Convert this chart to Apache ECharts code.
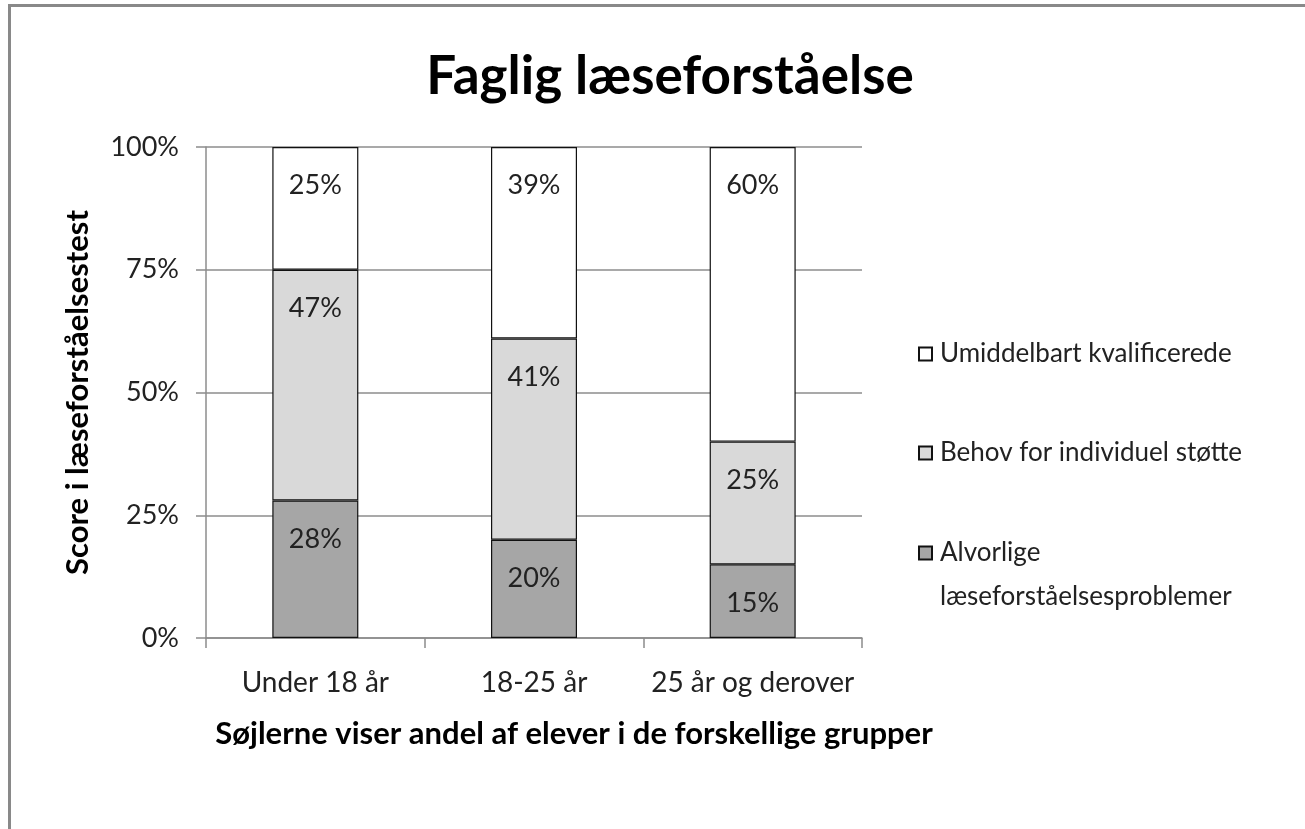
<!DOCTYPE html>
<html>
<head>
<meta charset="utf-8">
<script src="https://cdn.jsdelivr.net/npm/echarts@6/dist/echarts.min.js"></script>
<style>
  html, body { margin: 0; padding: 0; background: #fff; }
  #frame {
    position: absolute; left: 8px; top: 4px; width: 1305px; height: 829px;
    border-left: 3px solid #898989; border-top: 3px solid #898989;
  }
  #main { position: absolute; left: 0; top: 0; width: 1305px; height: 829px; }
</style>
</head>
<body>
<div id="frame"></div>
<div id="main"></div>
<script>
// categories and values (percent)
var categories = ['Under 18 år', '18-25 år', '25 år og derover']
var alvorlige = [28, 20, 15]
var behov = [47, 41, 25]
var umiddelbart = [25, 39, 60]
var yTicks = [0, 25, 50, 75, 100]

var FONT = 'Lato'
var myChart = echarts.init(document.getElementById('main'))

var labelStyle = {
  show: true,
  position: 'insideTop',
  distance: 25,
  fontFamily: FONT,
  fontSize: 27,
  color: '#222',
  formatter: '{c}%',
}

// one legend per entry so each can be placed like the original
var legendBase = {
  orient: 'vertical',
  left: 913,
  itemWidth: 13,
  itemHeight: 13,
  icon: 'rect',
  textStyle: { fontFamily: FONT, fontSize: 26, color: '#222', lineHeight: 40, padding: [0, 0, 0, 3] },
}

var option = {
  animation: false,
  title: {
    text: 'Faglig læseforståelse',
    left: 665,
    textAlign: 'center',
    top: 45,
    textStyle: { fontFamily: FONT, fontSize: 53, fontWeight: 'bold', color: '#000' },
  },
  legend: [
    Object.assign({}, legendBase, { top: 329, data: ['Umiddelbart kvalificerede'] }),
    Object.assign({}, legendBase, { top: 428, data: ['Behov for individuel støtte'] }),
    Object.assign({}, legendBase, {
      top: 482,
      data: ['Alvorlige læseforståelsesproblemer'],
      textStyle: Object.assign({}, legendBase.textStyle, { lineHeight: 44 }),
      formatter: function () {
        return ' \nAlvorlige\nlæseforståelsesproblemer'
      },
    }),
  ],
  grid: { left: 206, right: 443, top: 147, bottom: 191 },
  xAxis: {
    type: 'category',
    data: categories,
    name: 'Søjlerne viser andel af elever i de forskellige grupper',
    nameLocation: 'middle',
    nameGap: 80,
    nameTextStyle: { fontFamily: FONT, fontSize: 31, fontWeight: 'bold', color: '#000', padding: [0, 0, 0, 80] },
    axisLine: { lineStyle: { color: '#8c8c8c', width: 1.5 } },
    axisTick: { show: true, alignWithLabel: false, length: 10, lineStyle: { color: '#8c8c8c', width: 1.5 } },
    axisLabel: { interval: 0, fontFamily: FONT, fontSize: 28, color: '#222', margin: 31 },
  },
  yAxis: {
    type: 'value',
    min: 0,
    max: 100,
    interval: 25,
    name: 'Score i læseforståelsestest',
    nameLocation: 'middle',
    nameGap: 113,
    nameTextStyle: { fontFamily: FONT, fontSize: 31, fontWeight: 'bold', color: '#000' },
    axisLine: { show: true, lineStyle: { color: '#8c8c8c', width: 1.5 } },
    axisTick: { show: true, length: 10, lineStyle: { color: '#8c8c8c', width: 1.5 } },
    splitLine: { lineStyle: { color: '#8c8c8c', width: 1.5 } },
    axisLabel: {
      fontFamily: FONT,
      fontSize: 27,
      color: '#222',
      margin: 27,
      formatter: function (v) {
        return yTicks.indexOf(v) >= 0 ? v + '%' : ''
      },
    },
  },
  series: [
    {
      name: 'Alvorlige læseforståelsesproblemer',
      type: 'bar',
      stack: 'total',
      barWidth: 86,
      data: alvorlige,
      itemStyle: { color: '#a6a6a6', borderColor: '#111', borderWidth: 1.2 },
      label: labelStyle,
    },
    {
      name: 'Behov for individuel støtte',
      type: 'bar',
      stack: 'total',
      barWidth: 86,
      data: behov,
      itemStyle: { color: '#d9d9d9', borderColor: '#111', borderWidth: 1.2 },
      label: labelStyle,
    },
    {
      name: 'Umiddelbart kvalificerede',
      type: 'bar',
      stack: 'total',
      barWidth: 86,
      data: umiddelbart,
      itemStyle: { color: '#ffffff', borderColor: '#111', borderWidth: 1.2 },
      label: labelStyle,
    },
  ],
}
myChart.setOption(option)
</script>
</body>
</html>
